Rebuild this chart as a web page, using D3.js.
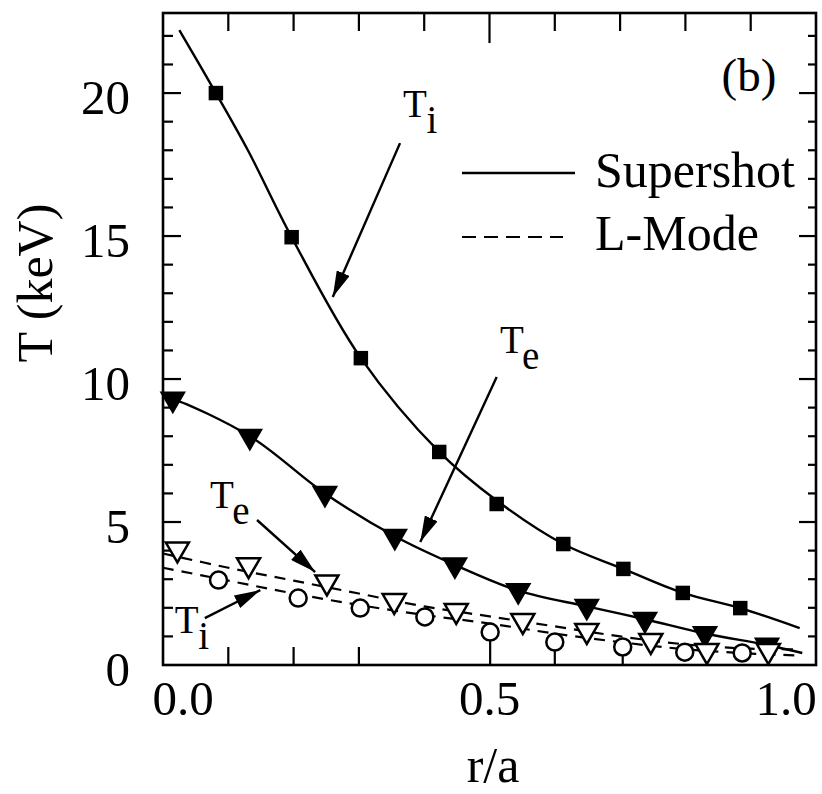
<!DOCTYPE html>
<html>
<head>
<meta charset="utf-8">
<script src="https://cdnjs.cloudflare.com/ajax/libs/d3/7.8.5/d3.min.js"></script>
<style>
  body { margin: 0; background: #fff; }
  text { font-family: "Liberation Serif", "Times New Roman", serif; fill: #000; }
</style>
</head>
<body>
<div id="chart"></div>
<script>
// supershot Ti (filled squares) and its fit line
const tiSuperR = [0.081, 0.197, 0.303, 0.423, 0.511, 0.613, 0.705, 0.796, 0.884];
const tiSuperT = [20.0, 14.96, 10.73, 7.45, 5.63, 4.23, 3.36, 2.52, 1.99];
const tiSuperFitR = [0.025, 0.081, 0.13, 0.197, 0.303, 0.423, 0.511, 0.613, 0.705, 0.796, 0.884, 0.975];
const tiSuperFitT = [22.2, 20.0, 18.0, 14.96, 10.73, 7.45, 5.75, 4.23, 3.36, 2.52, 1.99, 1.29];

// supershot Te (filled down triangles)
const teSuperR = [0.015, 0.133, 0.248, 0.355, 0.447, 0.544, 0.649, 0.738, 0.830, 0.925];
const teSuperT = [9.3, 8.0, 6.0, 4.5, 3.5, 2.6, 2.05, 1.6, 1.1, 0.7];
const teSuperFitR = [0.0, 0.015, 0.133, 0.248, 0.355, 0.447, 0.544, 0.649, 0.738, 0.830, 0.925, 0.979];
const teSuperFitT = [9.35, 9.3, 8.0, 6.0, 4.5, 3.5, 2.6, 2.05, 1.6, 1.1, 0.7, 0.42];

// L-mode Te (open down triangles)
const teLR = [0.022, 0.131, 0.251, 0.354, 0.449, 0.551, 0.649, 0.747, 0.833, 0.927];
const teLT = [4.05, 3.5, 2.9, 2.25, 1.9, 1.55, 1.2, 0.85, 0.5, 0.5];

// L-mode Ti (open circles), lower error bar length
const tiLR = [0.085, 0.207, 0.302, 0.401, 0.501, 0.600, 0.704, 0.799, 0.887];
const tiLT = [2.97, 2.34, 1.99, 1.68, 1.15, 0.8, 0.63, 0.45, 0.42];
const tiLErrLow = [0, 0, 0, 0, 1.15, 0.8, 0.63, 0, 0];

// L-mode dashed fits
const lFitR = [0.0, 0.1, 0.2, 0.3, 0.4, 0.5, 0.6, 0.7, 0.8, 0.9, 0.975];
const teLFitT = [3.9, 3.4, 2.95, 2.5, 2.05, 1.7, 1.35, 1.0, 0.72, 0.57, 0.55];
const tiLFitT = [3.4, 2.95, 2.5, 2.1, 1.75, 1.45, 1.1, 0.8, 0.55, 0.4, 0.33];

// axis ticks
const xLabels = [0.0, 0.5, 1.0];
const yLabels = [0, 5, 10, 15, 20];
const bottomTicks = [0.1, 0.2, 0.3];

// annotations: label anchor and arrow in data units
const notes = [
  { main: "T", sub: "i", r: 0.3675, t: 19.16, from: [0.363, 18.25], to: [0.260, 12.87] },
  { main: "T", sub: "e", r: 0.516, t: 10.91, from: [0.511, 10.07], to: [0.394, 4.30] },
  { main: "T", sub: "e", r: 0.072, t: 5.49, from: [0.144, 5.07], to: [0.233, 3.25] },
  { main: "T", sub: "i", r: 0.018, t: 1.12, from: [0.064, 1.64], to: [0.149, 2.62] }
];

const W = 822, H = 794;
const pL = 163, pR = 816, pT = 13, pB = 665;

const svg = d3.select("#chart").append("svg")
  .attr("width", W).attr("height", H);

svg.append("rect").attr("width", W).attr("height", H).attr("fill", "#fff");

const defs = svg.append("defs");
defs.append("marker")
  .attr("id", "arrow")
  .attr("viewBox", "0 0 26 14")
  .attr("refX", 26).attr("refY", 7)
  .attr("markerWidth", 26).attr("markerHeight", 14)
  .attr("markerUnits", "userSpaceOnUse")
  .attr("orient", "auto")
  .append("path").attr("d", "M0,0 L26,7 L0,14 Z").attr("fill", "#000");

const x = d3.scaleLinear().domain([0, 1]).range([pL, pR]);
const y = d3.scaleLinear().domain([0, 22.8]).range([pB, pT]);

// ticks
const g = svg.append("g");
d3.range(1, 23).forEach(function(v) {
  const major = v % 5 === 0;
  g.append("line").attr("x1", pL).attr("x2", pL + (major ? 18 : 10))
    .attr("y1", y(v)).attr("y2", y(v)).attr("stroke", "#000").attr("stroke-width", 2.2);
  g.append("line").attr("x1", pR).attr("x2", pR - (major ? 17 : 8))
    .attr("y1", y(v)).attr("y2", y(v)).attr("stroke", "#000").attr("stroke-width", 2.2);
});
d3.range(1, 10).forEach(function(i) {
  const v = i / 10;
  g.append("line").attr("x1", x(v)).attr("x2", x(v))
    .attr("y1", pT).attr("y2", pT + (i === 5 ? 30 : 18))
    .attr("stroke", "#000").attr("stroke-width", 2.2);
});
bottomTicks.forEach(function(v) {
  g.append("line").attr("x1", x(v)).attr("x2", x(v))
    .attr("y1", pB).attr("y2", pB - 18)
    .attr("stroke", "#000").attr("stroke-width", 2.2);
});

// tick labels
svg.selectAll(".ylab").data(yLabels).enter().append("text")
  .attr("x", 130).attr("y", d => y(d) + 21)
  .attr("text-anchor", "end").style("font-size", "49px").text(d => d);
const xShift = [20, 0, -30];
svg.selectAll(".xlab").data(xLabels).enter().append("text")
  .attr("x", (d, i) => x(d) + xShift[i]).attr("y", pB + 50)
  .attr("text-anchor", "middle").style("font-size", "49px").text(d => d.toFixed(1));

// axis titles
svg.append("text").attr("transform", "translate(52,283) rotate(-90)")
  .attr("text-anchor", "middle").style("font-size", "50px").text("T (keV)");
svg.append("text").attr("x", 493).attr("y", 782)
  .attr("text-anchor", "middle").style("font-size", "50px").text("r/a");

// fit lines
const line = d3.line().x(d => x(d[0])).y(d => y(d[1])).curve(d3.curveCatmullRom);
svg.append("path").attr("d", line(d3.zip(tiSuperFitR, tiSuperFitT)))
  .attr("fill", "none").attr("stroke", "#000").attr("stroke-width", 2.4);
svg.append("path").attr("d", line(d3.zip(teSuperFitR, teSuperFitT)))
  .attr("fill", "none").attr("stroke", "#000").attr("stroke-width", 2.4);

// supershot markers
const sq = d3.symbol().type(d3.symbolSquare).size(210);
svg.selectAll(".sq").data(d3.zip(tiSuperR, tiSuperT)).enter().append("path")
  .attr("d", sq).attr("transform", d => `translate(${x(d[0])},${y(d[1])})`).attr("fill", "#000");
const triBig = d3.symbol().type(d3.symbolTriangle).size(300);
svg.selectAll(".tri").data(d3.zip(teSuperR, teSuperT)).enter().append("path")
  .attr("d", triBig).attr("transform", d => `translate(${x(d[0])},${y(d[1])}) rotate(180)`).attr("fill", "#000");

// L-mode dashed lines
[teLFitT, tiLFitT].forEach(function(arr) {
  svg.append("path").attr("d", line(d3.zip(lFitR, arr)))
    .attr("fill", "none").attr("stroke", "#000").attr("stroke-width", 2.2)
    .attr("stroke-dasharray", "11,8");
});

// error bars (lower side)
svg.selectAll(".err").data(d3.zip(tiLR, tiLT, tiLErrLow).filter(d => d[2] > 0)).enter().append("line")
  .attr("x1", d => x(d[0])).attr("x2", d => x(d[0]))
  .attr("y1", d => y(d[1])).attr("y2", d => y(d[1] - d[2]))
  .attr("stroke", "#000").attr("stroke-width", 2.2);

// L-mode markers
svg.selectAll(".circ").data(d3.zip(tiLR, tiLT)).enter().append("circle")
  .attr("cx", d => x(d[0])).attr("cy", d => y(d[1])).attr("r", 8.5)
  .attr("fill", "#fff").attr("stroke", "#000").attr("stroke-width", 2.5);
const triOpen = d3.symbol().type(d3.symbolTriangle).size(230);
svg.selectAll(".otri").data(d3.zip(teLR, teLT)).enter().append("path")
  .attr("d", triOpen).attr("transform", d => `translate(${x(d[0])},${y(d[1])}) rotate(180)`)
  .attr("fill", "#fff").attr("stroke", "#000").attr("stroke-width", 2.5);

// annotations
notes.forEach(function(n) {
  const t = svg.append("text").attr("x", x(n.r)).attr("y", y(n.t)).style("font-size", "39px").text(n.main);
  t.append("tspan").attr("dx", 1).attr("dy", 16).text(n.sub);
  svg.append("line")
    .attr("x1", x(n.from[0])).attr("y1", y(n.from[1]))
    .attr("x2", x(n.to[0])).attr("y2", y(n.to[1]))
    .attr("stroke", "#000").attr("stroke-width", 2.4).attr("marker-end", "url(#arrow)");
});

// panel label
svg.append("text").attr("x", 749).attr("y", 91).attr("text-anchor", "middle")
  .style("font-size", "47px").text("(b)");

// legend
svg.append("line").attr("x1", 462).attr("x2", 575).attr("y1", 173).attr("y2", 173)
  .attr("stroke", "#000").attr("stroke-width", 2.4);
svg.append("text").attr("x", 595).attr("y", 187).style("font-size", "50px").text("Supershot");
svg.append("line").attr("x1", 462).attr("x2", 563).attr("y1", 237).attr("y2", 237)
  .attr("stroke", "#000").attr("stroke-width", 2.2).attr("stroke-dasharray", "14,8");
svg.append("text").attr("x", 595).attr("y", 250).style("font-size", "50px").text("L-Mode");

// frame
svg.append("rect").attr("x", pL).attr("y", pT)
  .attr("width", pR - pL).attr("height", pB - pT)
  .attr("fill", "none").attr("stroke", "#000").attr("stroke-width", 2.6);
</script>
</body>
</html>
